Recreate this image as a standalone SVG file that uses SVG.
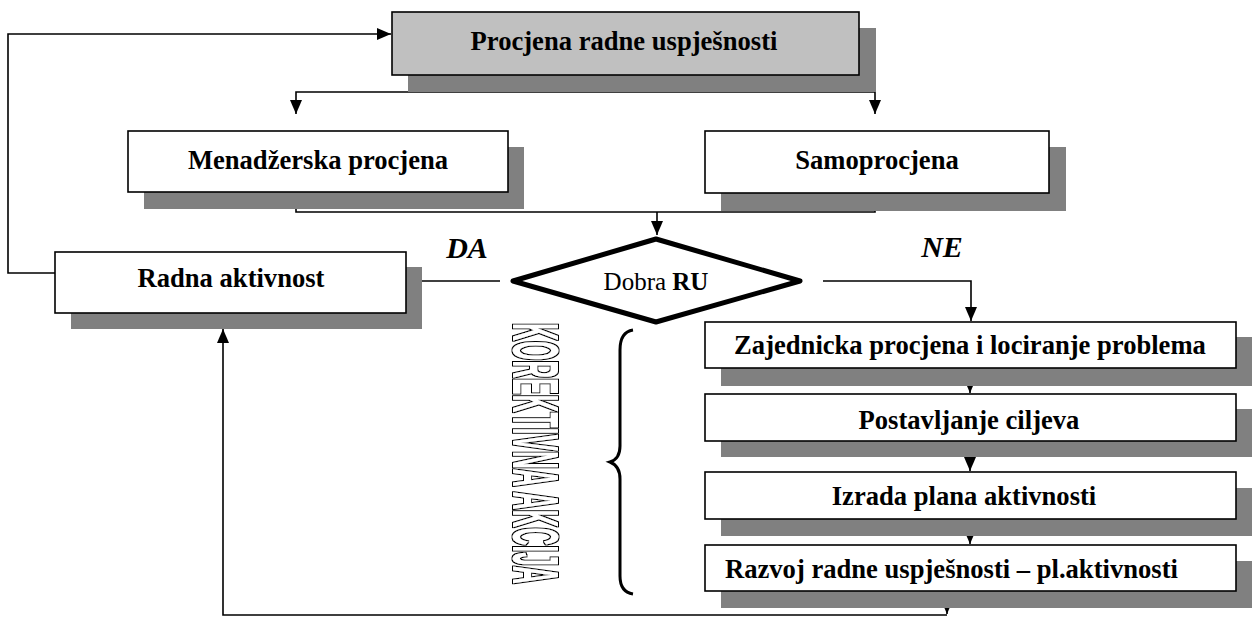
<svg xmlns="http://www.w3.org/2000/svg" width="1252" height="617" viewBox="0 0 1252 617">
  <style>
    .box { fill: #ffffff; stroke: #000000; stroke-width: 1.6; }
    .box.head { fill: #c0c0c0; }
    .shadow { fill: #808080; }
    .lbl { font-family: "Liberation Serif", "Times New Roman", serif; font-weight: bold; font-size: 26.6px; fill: #000000; }
    .yesno { font-family: "Liberation Serif", "Times New Roman", serif; font-weight: bold; font-style: italic; font-size: 30px; fill: #000000; }
    .cond { font-family: "Liberation Serif", "Times New Roman", serif; font-size: 25px; fill: #000000; }
    .wire { fill: none; stroke: #000000; stroke-width: 1.6; }
    .arrow { fill: none; stroke: #000000; stroke-width: 1.6; marker-end: url(#head); }
    .outline { font-family: "Liberation Sans", Arial, sans-serif; font-weight: bold; font-size: 65px; fill: #000000; }
  </style>
  <defs>
    <marker id="head" viewBox="0 0 14 12" refX="14" refY="6" markerWidth="14" markerHeight="12" markerUnits="userSpaceOnUse" orient="auto">
      <path d="M0,0 L14,6 L0,12 z" fill="#000000"/>
    </marker>
    <!-- hollow lettering: white glyph body with a thin black contour -->
    <filter id="hollow" x="-20%" y="-5%" width="140%" height="110%">
      <feMorphology in="SourceAlpha" operator="dilate" radius="1" result="outer"/>
      <feFlood flood-color="#000000" result="ink"/>
      <feComposite in="ink" in2="outer" operator="in" result="ring"/>
      <feFlood flood-color="#ffffff" result="paper"/>
      <feComposite in="paper" in2="SourceAlpha" operator="in" result="body"/>
      <feMerge>
        <feMergeNode in="ring"/>
        <feMergeNode in="body"/>
      </feMerge>
    </filter>
  </defs>

  <rect width="1252" height="617" fill="#ffffff"/>

  <!-- connectors -->
  <g id="connectors">
    <!-- feedback from Radna aktivnost back to the top -->
    <path class="arrow" d="M55 273 H8 V34 H391"/>
    <!-- top box splits into the two assessments -->
    <path class="arrow" d="M607 68 V91"/>
    <path class="arrow" d="M607 92 H296 V114"/>
    <path class="arrow" d="M607 92 H875 V114"/>
    <!-- both assessments merge into the decision -->
    <path class="wire" d="M296 187 V212 H875 V187"/>
    <path class="arrow" d="M657 212 V235"/>
    <!-- DA branch -->
    <path class="arrow" d="M500 281 H406"/>
    <!-- NE branch -->
    <path class="arrow" d="M823 281 H971 V321"/>
    <!-- corrective steps -->
    <path class="arrow" d="M970 368 V393"/>
    <path class="arrow" d="M970 441 V471"/>
    <path class="arrow" d="M970 519 V544"/>
    <path class="arrow" d="M947 591 V614"/>
    <!-- return to Radna aktivnost -->
    <path class="arrow" d="M947 615 H223 V329"/>
  </g>

  <g id="node-procjena">
    <rect class="shadow" x="408" y="28" width="468" height="64"/>
    <rect class="box head" x="392" y="12" width="467" height="63"/>
    <text class="lbl" x="624" y="50" text-anchor="middle">Procjena radne uspješnosti</text>
  </g>

  <g id="node-menadzerska">
    <rect class="shadow" x="144" y="147" width="380" height="62"/>
    <rect class="box" x="128" y="131" width="380" height="61"/>
    <text class="lbl" x="318" y="169" text-anchor="middle">Menadžerska procjena</text>
  </g>

  <g id="node-samoprocjena">
    <rect class="shadow" x="721" y="147" width="345" height="64"/>
    <rect class="box" x="705" y="131" width="344" height="62"/>
    <text class="lbl" x="877" y="169" text-anchor="middle">Samoprocjena</text>
  </g>

  <g id="node-radna">
    <rect class="shadow" x="71" y="267" width="351" height="62"/>
    <rect class="box" x="55" y="252" width="351" height="61"/>
    <text class="lbl" x="231" y="287" text-anchor="middle">Radna aktivnost</text>
  </g>

  <g id="node-odluka">
    <polygon points="513,281 656,239 800,281 656,322" fill="#ffffff" stroke="#000000" stroke-width="5" stroke-linejoin="round"/>
    <text class="cond" x="656" y="290" text-anchor="middle">Dobra <tspan font-weight="bold">RU</tspan></text>
  </g>

  <g id="label-da">
    <text class="yesno" x="467" y="258" text-anchor="middle">DA</text>
  </g>
  <g id="label-ne">
    <text class="yesno" x="942" y="257" text-anchor="middle">NE</text>
  </g>

  <g id="node-zajednicka">
    <rect class="shadow" x="721" y="337" width="533" height="49"/>
    <rect class="box" x="705" y="322" width="531" height="46"/>
    <text class="lbl" x="970" y="354" text-anchor="middle">Zajednicka procjena i lociranje problema</text>
  </g>

  <g id="node-ciljevi">
    <rect class="shadow" x="721" y="409" width="533" height="48"/>
    <rect class="box" x="705" y="394" width="531" height="47"/>
    <text class="lbl" x="969" y="429" text-anchor="middle">Postavljanje ciljeva</text>
  </g>

  <g id="node-plan">
    <rect class="shadow" x="721" y="488" width="533" height="48"/>
    <rect class="box" x="705" y="472" width="531" height="47"/>
    <text class="lbl" x="964" y="505" text-anchor="middle">Izrada plana aktivnosti</text>
  </g>

  <g id="node-razvoj">
    <rect class="shadow" x="721" y="561" width="533" height="47"/>
    <rect class="box" x="705" y="545" width="531" height="46"/>
    <text class="lbl" x="725" y="578">Razvoj radne uspješnosti – pl.aktivnosti</text>
  </g>

  <!-- bracket grouping the corrective steps -->
  <g id="korektivna">
    <path d="M633 330 Q620 332 620 350 L620 446 Q620 459 610 462 Q620 466 620 479 L620 576 Q620 592 633 594" fill="none" stroke="#000000" stroke-width="3"/>
    <g filter="url(#hollow)">
      <text class="outline" transform="translate(513,323) rotate(90) scale(0.381,1)" x="0" y="0">KOREKTIVNA AKCIJA</text>
    </g>
  </g>
</svg>
